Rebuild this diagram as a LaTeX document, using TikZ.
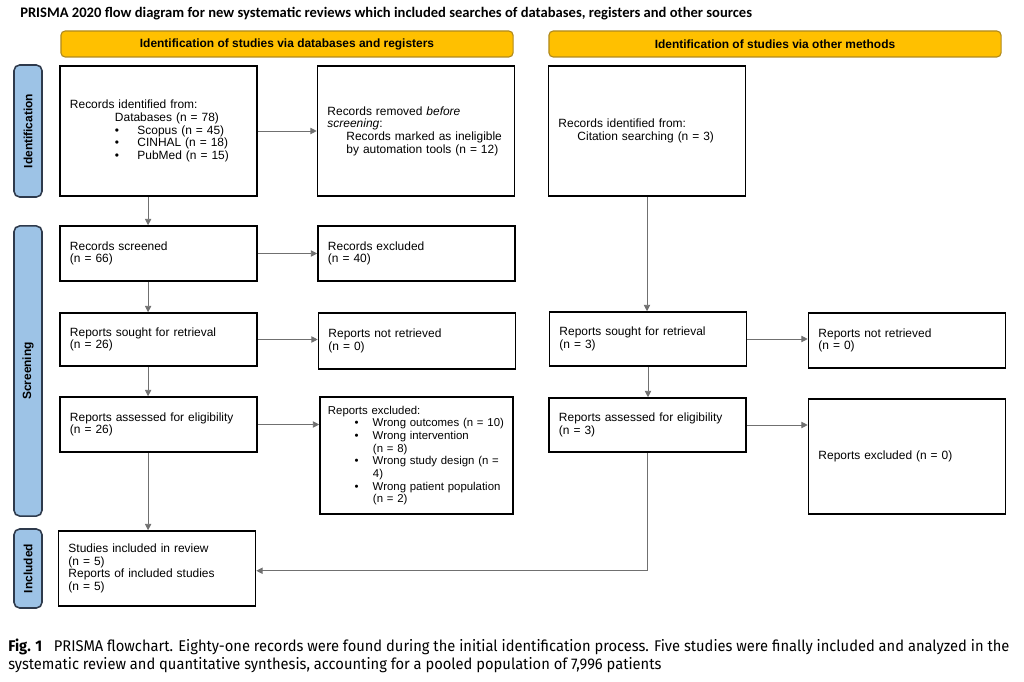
\documentclass[tikz,border=0pt]{standalone}
\usepackage{fontspec}
\setmainfont{Liberation Sans}
\newfontfamily\titlefont{Carlito}
\newfontfamily\capfont[FakeStretch=0.95]{Fira Sans}
\usepackage{tikz}
\usetikzlibrary{
  arrows.meta,
  positioning,
  calc
}
\definecolor{hdrfill}{HTML}{FFC000}
\definecolor{hdrline}{HTML}{B08A1E}
\definecolor{sidefill}{HTML}{9DC3E6}
\definecolor{sideline}{HTML}{2E3A4C}
\definecolor{flowline}{HTML}{707070}
\newcommand{\bx}{\fontsize{8.5}{9}\selectfont}
\newcommand{\dbitem}[1]{\hspace*{32pt}\textbullet\hspace*{13pt}#1}
\newcommand{\exitem}[1]{\mbox{\hspace*{19pt}\textbullet\hspace*{10pt}#1}}
\newcommand{\excont}[1]{\mbox{\hspace*{32pt}#1}}
\tikzset{
  flow box/.style={
    draw=black, line width=1.1pt, rectangle,
    minimum width=4.925cm, text width=4.425cm,
    inner xsep=0.25cm, inner ysep=2pt,
    align=left, font=\bx
  },
  header box/.style={
    draw=hdrline, fill=hdrfill, line width=0.8pt,
    rounded corners=3pt,
    minimum width=11.3cm, minimum height=0.65cm,
    font=\bx\bfseries
  },
  phase box/.style={
    draw=sideline, fill=sidefill, line width=1.1pt,
    rounded corners=4pt, rotate=90,
    minimum height=0.7cm, inner sep=0pt,
    font=\bx\bfseries
  },
  flow arrow/.style={
    -{Triangle[length=4.5pt,width=4.5pt]}, draw=flowline, line width=0.6pt
  },
}

\begin{document}
\begin{tikzpicture}[x=0.025cm, y=-0.025cm]
  \useasboundingbox (0,0) rectangle (1024,682);

  % Title
  \node[anchor=west, inner sep=0pt, font=\titlefont\fontsize{10.37}{12}\selectfont\bfseries]
    (title) at (20,14)
    {PRISMA 2020 flow diagram for new systematic reviews which included searches of databases, registers and other sources};

  % Column headers
  \node[header box] (hdrdb) at (287,44) {Identification of studies via databases and registers};
  \node[header box] (hdroth) at (775,44) {Identification of studies via other methods};

  % Phase labels
  \node[phase box, minimum width=3.3cm] (phid) at (28,131) {Identification};
  \node[phase box, minimum width=7.25cm] (phscr) at (28,371) {Screening};
  \node[phase box, minimum width=1.975cm] (phinc) at (28,568.5) {Included};

  % Identification
  \node[flow box, minimum height=3.25cm] (dbrec) at (158.5,131)
    {Records identified from:\\
     \hspace*{32pt}Databases (n = 78)\\
     \dbitem{Scopus (n = 45)}\\
     \dbitem{CINHAL (n = 18)}\\
     \dbitem{PubMed (n = 15)}};
  \node[flow box, minimum height=3.25cm] (removed) at (416,131)
    {Records removed \textit{before}\\
     \textit{screening}:\\
     \hspace*{13.5pt}Records marked as ineligible\\
     \hspace*{13.5pt}by automation tools (n = 12)};
  \node[flow box, minimum height=3.25cm] (citrec) at (647,131)
    {Records identified from:\\
     \hspace*{13.5pt}Citation searching (n = 3)};

  % Screening, databases
  \node[flow box, minimum height=1.375cm] (screened) at (158.5,253.5)
    {Records screened\\(n = 66)};
  \node[flow box, minimum height=1.375cm] (recexcl) at (416.5,253.5)
    {Records excluded\\(n = 40)};
  \node[flow box, minimum height=1.325cm] (sought) at (158.5,339.5)
    {Reports sought for retrieval\\(n = 26)};
  \node[flow box, minimum height=1.4cm] (notretr) at (417,341)
    {Reports not retrieved\\(n = 0)};
  \node[flow box, minimum height=1.375cm] (assessed) at (158.5,424.5)
    {Reports assessed for eligibility\\(n = 26)};
  \node[flow box, minimum width=4.825cm, text width=4.425cm, inner xsep=0.2cm,
        minimum height=2.925cm, font=\fontsize{8.1}{9}\selectfont] (repexcl) at (416.5,455.5)
    {Reports excluded:\\
     \exitem{Wrong outcomes (n = 10)}\\
     \exitem{Wrong intervention}\\
     \excont{(n = 8)}\\
     \exitem{Wrong study design (n =}\\
     \excont{4)}\\
     \exitem{Wrong patient population}\\
     \excont{(n = 2)}};

  % Screening, other methods
  \node[flow box, minimum height=1.35cm] (othsought) at (648,339)
    {Reports sought for retrieval\\(n = 3)};
  \node[flow box, minimum height=1.375cm] (othnotretr) at (907,340.5)
    {Reports not retrieved\\(n = 0)};
  \node[flow box, minimum height=1.35cm] (othassessed) at (647.5,425)
    {Reports assessed for eligibility\\(n = 3)};
  \node[flow box, minimum height=2.875cm] (othexcl) at (907,456.5)
    {Reports excluded (n = 0)};

  % Included
  \node[flow box, minimum height=1.875cm] (included) at (157,568.5)
    {Studies included in review\\(n = 5)\\Reports of included studies\\(n = 5)};

  % Arrows, databases
  \draw[flow arrow] (dbrec.east) -- (removed.west);
  \draw[flow arrow] ([xshift=-7.4pt]dbrec.south) -- ([xshift=-7.4pt]dbrec.south |- screened.north);
  \draw[flow arrow] (screened.east) -- (screened.east -| recexcl.west);
  \draw[flow arrow] ([xshift=-7.4pt]screened.south) -- ([xshift=-7.4pt]screened.south |- sought.north);
  \draw[flow arrow] (sought.east) -- (sought.east -| notretr.west);
  \draw[flow arrow] ([xshift=-7.4pt]sought.south) -- ([xshift=-7.4pt]sought.south |- assessed.north);
  \draw[flow arrow] (assessed.east) -- (assessed.east -| repexcl.west);
  \draw[flow arrow] ([xshift=-7.4pt]assessed.south) -- ([xshift=-7.4pt]assessed.south |- included.north);

  % Arrows, other methods
  \draw[flow arrow] (citrec.south) -- (citrec.south |- othsought.north);
  \draw[flow arrow] (othsought.east) -- (othsought.east -| othnotretr.west);
  \draw[flow arrow] (othsought.south) -- (othsought.south |- othassessed.north);
  \draw[flow arrow] (othassessed.east) -- (othassessed.east -| othexcl.west);
  \draw[flow arrow] (othassessed.south) |- ([yshift=-1.6pt]included.east);

  % Caption
  \node[anchor=north west, inner sep=0pt, align=left,
        font=\capfont\fontsize{11}{12.8}\selectfont] (caption) at (8,639)
    {{\bfseries Fig. 1}\hspace{0.5em} PRISMA flowchart. Eighty-one records were found during the initial identification process. Five studies were finally included and analyzed in the\\
     systematic review and quantitative synthesis, accounting for a pooled population of 7,996 patients};

\end{tikzpicture}
\end{document}
